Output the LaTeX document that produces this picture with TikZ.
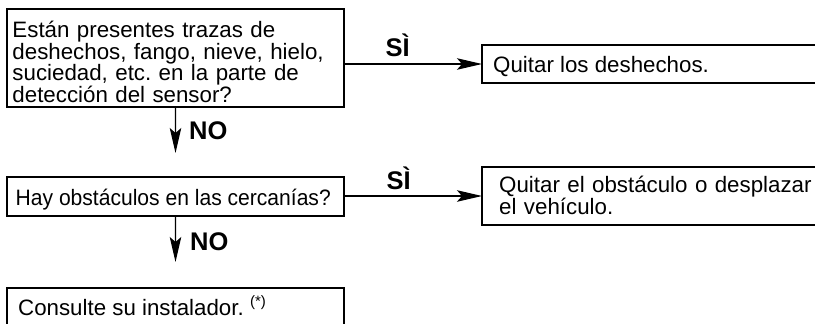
\documentclass[tikz,border=0pt]{standalone}
\usepackage{fontspec}
\setmainfont{Liberation Sans}
\usetikzlibrary{arrows.meta}
\frenchspacing
\begin{document}
\begin{tikzpicture}[x=1bp,y=-1bp,
  box/.style={draw, line width=1.3bp, inner sep=0pt, outer sep=0pt, anchor=north west},
  txt/.style={inner sep=0pt, anchor=base west, align=left, font=\fontsize{22.3bp}{19.8bp}\selectfont},
  lbl/.style={inner sep=0pt, anchor=base west, font=\fontsize{25.5bp}{25.5bp}\selectfont\bfseries},
  conn/.style={line width=1.2bp, -{Stealth[length=25bp,width=11.5bp,inset=5bp]}}]
\useasboundingbox (0,0) rectangle (815,323);
\clip (0,0) rectangle (815,323);
% boxes
\node[box, minimum width=337bp, minimum height=98bp] (q1) at (7,9) {};
\node[box, minimum width=400bp, minimum height=38bp] (a1) at (482,45) {};
\node[box, minimum width=337bp, minimum height=39bp] (q2) at (7,177) {};
\node[box, minimum width=400bp, minimum height=58bp] (a2) at (482,167) {};
\node[box, minimum width=337bp, minimum height=60bp] (r) at (7,288) {};
% texts
\node[txt, text width=380bp] (t1) at (12.3,37.3) {Están presentes trazas de\\deshechos, fango, nieve, hielo,\\suciedad, etc.\ en la parte de\\detección del sensor?};
\node[txt] (t2) at (493,72) {Quitar los deshechos.};
\node[txt] (t3) at (15.5,205) {\scalebox{0.945}[1]{Hay obstáculos en las cercanías?}};
\node[txt, text width=380bp] (t4) at (499,192) {Quitar el obstáculo o desplazar\\el vehículo.};
\node[txt] (t5) at (18,315) {Consulte su instalador. \raisebox{9bp}{\fontsize{15bp}{15bp}\selectfont(*)}};
% connectors
\coordinate (n1) at (175.5,153);
\coordinate (n2) at (175.5,262);
\draw[conn] (q1.east |- a1.west) -- (a1.west);
\draw[conn] (q1.south) -- (n1);
\draw[conn] (q2.east |- a2.west) -- (a2.west);
\draw[conn] (q2.south) -- (n2);
% labels
\node[lbl] (s1) at (385.5,56.5) {SÌ};
\node[lbl] (s2) at (386.5,189.5) {SÌ};
\node[lbl] (no1) at (189,139) {NO};
\node[lbl] (no2) at (190,250) {NO};
\end{tikzpicture}
\end{document}
